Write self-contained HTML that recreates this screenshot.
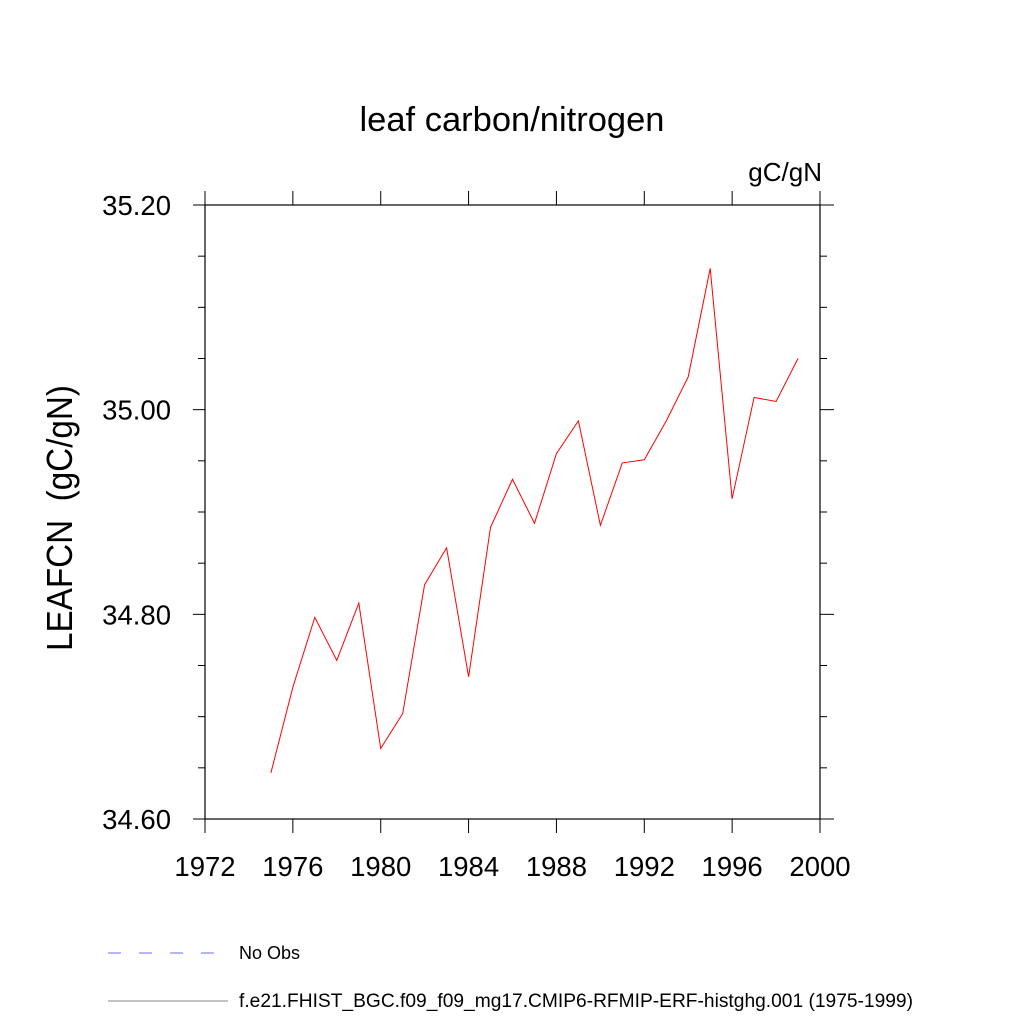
<!DOCTYPE html>
<html><head><meta charset="utf-8"><style>
html,body{margin:0;padding:0;background:#fff;}
svg{display:block;font-family:"Liberation Sans",sans-serif;}
</style></head><body>
<svg id="chart" width="1024" height="1024" viewBox="0 0 1024 1024">
<text x="512" y="131" font-size="34.5" text-anchor="middle">leaf carbon/nitrogen</text>
<text x="822" y="181" font-size="26" text-anchor="end">gC/gN</text>
<text transform="translate(72,518) rotate(-90)" font-size="36" text-anchor="middle" xml:space="preserve" textLength="266" lengthAdjust="spacingAndGlyphs">LEAFCN  (gC/gN)</text>
<rect x="205" y="205" width="615" height="614" fill="none" stroke="#000" stroke-width="1.2"/>
<g id="axes"></g>
<polyline id="series" fill="none" stroke="#ff0000" stroke-width="1"/>
<line x1="108" y1="953" x2="215" y2="953" stroke="#6a6aff" stroke-width="1" stroke-dasharray="13,18"/>
<text x="239" y="959" font-size="18">No Obs</text>
<line x1="108" y1="1001" x2="228" y2="1001" stroke="#888" stroke-width="1"/>
<text x="239" y="1007" font-size="19" textLength="674" lengthAdjust="spacingAndGlyphs">f.e21.FHIST_BGC.f09_f09_mg17.CMIP6-RFMIP-ERF-histghg.001 (1975-1999)</text>
</svg>
<script>
const years=[1975,1976,1977,1978,1979,1980,1981,1982,1983,1984,1985,1986,1987,1988,1989,1990,1991,1992,1993,1994,1995,1996,1997,1998,1999];
const values=[34.645,34.729,34.797,34.755,34.811,34.669,34.703,34.829,34.865,34.739,34.885,34.932,34.889,34.957,34.989,34.887,34.948,34.951,34.989,35.032,35.138,34.913,35.012,35.008,35.050];
const xTicks=[1972,1976,1980,1984,1988,1992,1996,2000];
const yTicks=[34.60,34.80,35.00,35.20];
const yMinor=[34.65,34.70,34.75,34.85,34.90,34.95,35.05,35.10,35.15];
const X0=205,X1=820,Y0=819,Y1=205;
const xs=v=>X0+(v-1972)/(2000-1972)*(X1-X0);
const ys=v=>Y0-(v-34.6)/(35.2-34.6)*(Y0-Y1);
const NS="http://www.w3.org/2000/svg";
const g=document.getElementById('axes');
function ln(x1,y1,x2,y2){const l=document.createElementNS(NS,'line');l.setAttribute('x1',x1);l.setAttribute('y1',y1);l.setAttribute('x2',x2);l.setAttribute('y2',y2);l.setAttribute('stroke','#000');l.setAttribute('stroke-width','1');g.appendChild(l);return l;}
function tx(x,y,s,a){const t=document.createElementNS(NS,'text');t.setAttribute('x',x);t.setAttribute('y',y);t.setAttribute('font-size','27.5');t.setAttribute('text-anchor',a);t.textContent=s;g.appendChild(t);return t;}
xTicks.forEach(v=>{const x=xs(v);
 let a=ln(x,Y0,x,Y0+14);
 let b=ln(x,Y1,x,Y1-14);
 let t=tx(x,Y0+57,String(v),'middle');});
yTicks.forEach(v=>{const y=ys(v);
 let a=ln(X0-12,y,X0,y);
 let b=ln(X1,y,X1+14,y);
 let t=tx(X0-34,y+10,v.toFixed(2),'end');});
yMinor.forEach(v=>{const y=ys(v);
 let a=ln(X0-7,y,X0,y);
 let b=ln(X1,y,X1+7,y);});
document.getElementById('series').setAttribute('points',years.map((y,i)=>xs(y).toFixed(1)+','+ys(values[i]).toFixed(1)).join(' '));
</script>
</body></html>
